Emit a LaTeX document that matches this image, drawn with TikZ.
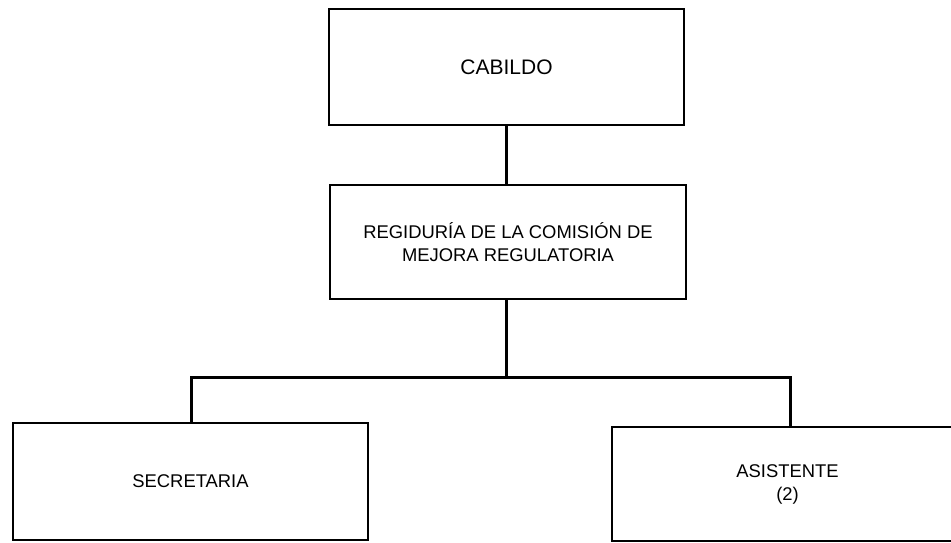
\documentclass[tikz,border=0pt]{standalone}
\usepackage{fontspec}
\setmainfont{Liberation Sans}
\begin{document}
\begin{tikzpicture}[x=1pt,y=-1pt,
  box/.style={draw=black,line width=1.8pt,inner sep=0pt,align=center,font=\fontsize{18.4}{23}\selectfont},
  conn/.style={draw=black,line width=3pt}]
\useasboundingbox[fill=white] (0,0) rectangle (951,542);
\node[box,minimum width=355pt,minimum height=116pt,font=\fontsize{21}{25}\selectfont] (cab) at (506.5,67) {CABILDO};
\node[box,minimum width=356pt,minimum height=114pt] (reg) at (508,242) {REGIDURÍA DE LA COMISIÓN DE\\MEJORA REGULATORIA};
\node[box,minimum width=355pt,minimum height=117pt] (sec) at (190.5,481.5) {SECRETARIA};
\node[box,minimum width=345pt,minimum height=114pt,text width=345pt] (asi) at (784.5,484) {\hspace*{6pt}ASISTENTE\\\hspace*{6pt}(2)};
\coordinate (j) at (506,377);
\coordinate (sl) at (191,0);
\coordinate (ar) at (790,0);
\draw[conn] (cab.south) -- (cab.south |- reg.north);
\draw[conn] (reg.south -| j) -- (j);
\draw[conn,line cap=rect] (sec.north -| sl) |- (j) -| (asi.north -| ar);
\end{tikzpicture}
\end{document}
